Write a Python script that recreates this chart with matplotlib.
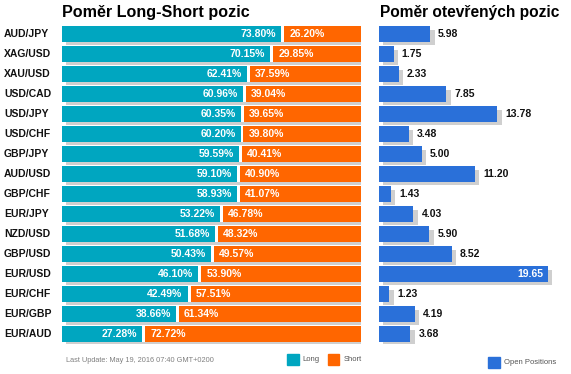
import matplotlib
matplotlib.use("Agg")
import matplotlib.pyplot as plt
import matplotlib.patheffects as pe
from matplotlib.patches import Rectangle
from matplotlib.transforms import blended_transform_factory

plt.rcParams['font.family'] = ['Liberation Sans', 'DejaVu Sans']

# data
pairs = ["AUD/JPY", "XAG/USD", "XAU/USD", "USD/CAD", "USD/JPY", "USD/CHF", "GBP/JPY", "AUD/USD",
         "GBP/CHF", "EUR/JPY", "NZD/USD", "GBP/USD", "EUR/USD", "EUR/CHF", "EUR/GBP", "EUR/AUD"]
longPct = [73.80, 70.15, 62.41, 60.96, 60.35, 60.20, 59.59, 59.10,
           58.93, 53.22, 51.68, 50.43, 46.10, 42.49, 38.66, 27.28]
shortPct = [26.20, 29.85, 37.59, 39.04, 39.65, 39.80, 40.41, 40.90,
            41.07, 46.78, 48.32, 49.57, 53.90, 57.51, 61.34, 72.72]
openPos = [5.98, 1.75, 2.33, 7.85, 13.78, 3.48, 5.00, 11.20,
           1.43, 4.03, 5.90, 8.52, 19.65, 1.23, 4.19, 3.68]

# colours
teal = "#00a6c0"
orange = "#ff6600"
blue = "#2a70d9"
shadow = "#cfcfcf"

W, H = 571, 374
fig = plt.figure(figsize=(W / 100, H / 100), dpi=100)

def fx(px):
    return px / W

def fy(py):
    return 1 - py / H

shadowFx = [pe.SimplePatchShadow(offset=(3.2, -2.5), shadow_rgbFace=shadow, alpha=1.0), pe.Normal()]
n = len(pairs)
ypos = list(range(n))
barH = 0.78
axBottom, axTop = 343.9, 23.9

# left panel: long / short ratio
ax = fig.add_axes([fx(62), fy(axBottom), fx(299), (axBottom - axTop) / H])
ax.set_xlim(0, 100)
ax.set_ylim(n - 0.5, -0.5)
ax.axis("off")
gap = 0.5
ax.barh(ypos, [100] * n, height=barH, color="white", path_effects=shadowFx)
ax.barh(ypos, [l - gap for l in longPct], height=barH, color=teal)
ax.barh(ypos, [s - gap for s in shortPct], left=[l + gap for l in longPct], height=barH, color=orange)

trans = blended_transform_factory(ax.transAxes, ax.transData)
for i in ypos:
    ax.text(-0.194, i, pairs[i], transform=trans, ha="left", va="center",
            fontsize=7.5, fontweight="bold", color="#111111")
    ax.annotate(f"{longPct[i]:.2f}%", xy=(longPct[i] - gap, i), xytext=(-3.6, 0),
                textcoords="offset points", ha="right", va="center",
                fontsize=7.5, fontweight="bold", color="white")
    ax.annotate(f"{shortPct[i]:.2f}%", xy=(longPct[i] + gap, i), xytext=(3.6, 0),
                textcoords="offset points", ha="left", va="center",
                fontsize=7.5, fontweight="bold", color="white")

# right panel: open positions
ax2 = fig.add_axes([fx(378.7), fy(axBottom), fx(180), (axBottom - axTop) / H])
ax2.set_xlim(0, 180 / 8.6)
ax2.set_ylim(n - 0.5, -0.5)
ax2.axis("off")
ax2.barh(ypos, openPos, height=barH, color=blue, path_effects=shadowFx)
for i in ypos:
    v = openPos[i]
    if v > 15:
        ax2.annotate(f"{v:.2f}", xy=(v, i), xytext=(-3, 0), textcoords="offset points",
                     ha="right", va="center", fontsize=7.5, fontweight="bold", color="white")
    else:
        ax2.annotate(f"{v:.2f}", xy=(v, i), xytext=(5.8, 0), textcoords="offset points",
                     ha="left", va="center", fontsize=7.5, fontweight="bold", color="#111111")

# titles
fig.text(fx(62), fy(17.5), "Poměr Long-Short pozic", fontsize=11.6, fontweight="bold",
         va="baseline", ha="left", color="black")
fig.text(fx(380.5), fy(17.5), "Poměr otevřených pozic", fontsize=11.2, fontweight="bold",
         va="baseline", ha="left", color="black")

# footer and legends
fig.text(fx(66), fy(360.7), "Last Update: May 19, 2016 07:40 GMT+0200", fontsize=5.3,
         color="#808080", va="center", ha="left")
legendItems = [(287, 354, teal, "Long"), (328, 354, orange, "Short"), (488, 357, blue, "Open Positions")]
for x0, y0, c, lab in legendItems:
    fig.patches.append(Rectangle((fx(x0), fy(y0 + 11)), fx(11.5), 11 / H, color=c,
                                 transform=fig.transFigure, figure=fig))
    fig.text(fx(x0 + 15.5), fy(y0 + 5.7), lab, fontsize=5.5, color="#555555",
             va="center", ha="left")

fig.savefig("out.png", dpi=100, facecolor="white")
